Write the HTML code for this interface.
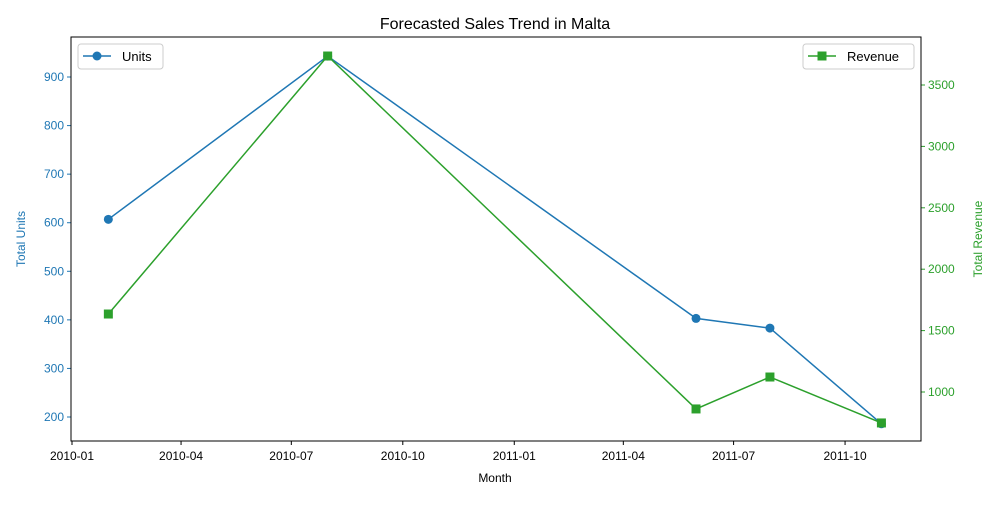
<!DOCTYPE html>
<html><head><meta charset="utf-8"><style>
body{margin:0;background:#fff;font-family:"Liberation Sans",sans-serif}
svg text{font-family:"Liberation Sans",sans-serif}
</style></head><body>
<svg id="c" width="1000" height="500" xmlns="http://www.w3.org/2000/svg"></svg>
<script>
const dates=["2010-01-31","2010-07-31","2011-05-31","2011-07-31","2011-10-31"];
const units=[607,943,403,383,186];
const revenue=[1635,3736,862,1122,748];
const xTicks=["2010-01","2010-04","2010-07","2010-10","2011-01","2011-04","2011-07","2011-10"];
const yLeftTicks=[200,300,400,500,600,700,800,900];
const yRightTicks=[1000,1500,2000,2500,3000,3500];
const L=71,R=921,T=37,B=441;
const base=Date.UTC(2010,0,1);
function day(s){const p=s.split('-');return (Date.UTC(+p[0],+p[1]-1,p[2]?+p[2]:1)-base)/864e5;}
const x=d=>72+day(d)*1.2117;
const yl=v=>417-(v-200)*0.4857;
const yr=v=>392-(v-1000)*0.1228;
const svg=document.getElementById('c');const NS="http://www.w3.org/2000/svg";
function el(t,a,txt){const e=document.createElementNS(NS,t);for(const k in a)e.setAttribute(k,a[k]);if(txt!==undefined)e.textContent=txt;svg.appendChild(e);return e;}
let e;
e=el('text',{x:495,y:29,'text-anchor':'middle','font-size':16},'Forecasted Sales Trend in Malta');

xTicks.forEach(t=>{const X=x(t);
e=el('line',{x1:X,x2:X,y1:B,y2:B+4,stroke:'#000'});
e=el('text',{x:X,y:B+19,'text-anchor':'middle','font-size':12},t);});
yLeftTicks.forEach(t=>{const Y=yl(t);
e=el('line',{x1:L-4,x2:L,y1:Y,y2:Y,stroke:'#1f77b4'});
e=el('text',{x:L-7,y:Y+4,'text-anchor':'end','font-size':12,fill:'#1f77b4'},t);});
yRightTicks.forEach(t=>{const Y=yr(t);
e=el('line',{x1:R,x2:R+4,y1:Y,y2:Y,stroke:'#2ca02c'});
e=el('text',{x:R+7,y:Y+4,'font-size':12,fill:'#2ca02c'},t);});
e=el('text',{x:495,y:482,'text-anchor':'middle','font-size':12},'Month');
e=el('text',{x:0,y:0,'text-anchor':'middle','font-size':12,fill:'#1f77b4',transform:'translate(25,239) rotate(-90)'},'Total Units');
e=el('text',{x:0,y:0,'text-anchor':'middle','font-size':12,fill:'#2ca02c',transform:'translate(982,239) rotate(-90)'},'Total Revenue');
e=el('polyline',{points:dates.map((d,i)=>x(d)+','+yl(units[i])).join(' '),fill:'none',stroke:'#1f77b4','stroke-width':1.5});
dates.forEach((d,i)=>{e=el('circle',{cx:x(d),cy:yl(units[i]),r:4.5,fill:'#1f77b4'});});
e=el('polyline',{points:dates.map((d,i)=>x(d)+','+yr(revenue[i])).join(' '),fill:'none',stroke:'#2ca02c','stroke-width':1.5});
dates.forEach((d,i)=>{e=el('rect',{x:x(d)-4.5,y:yr(revenue[i])-4.5,width:9,height:9,fill:'#2ca02c'});});
e=el('rect',{x:L,y:T,width:R-L,height:B-T,fill:'none',stroke:'#000','stroke-width':1});
e=el('rect',{x:78,y:44,width:85,height:25,rx:3,fill:'#fff',stroke:'#ccc'});
e=el('line',{x1:83,x2:111,y1:56,y2:56,stroke:'#1f77b4','stroke-width':1.5});
e=el('circle',{cx:97,cy:56,r:4.5,fill:'#1f77b4'});
e=el('text',{x:122,y:61,'font-size':13},'Units');
e=el('rect',{x:803,y:44,width:111,height:25,rx:3,fill:'#fff',stroke:'#ccc'});
e=el('line',{x1:808,x2:836,y1:56,y2:56,stroke:'#2ca02c','stroke-width':1.5});
e=el('rect',{x:817.5,y:51.5,width:9,height:9,fill:'#2ca02c'});
e=el('text',{x:847,y:61,'font-size':13},'Revenue');
</script>
</body></html>
